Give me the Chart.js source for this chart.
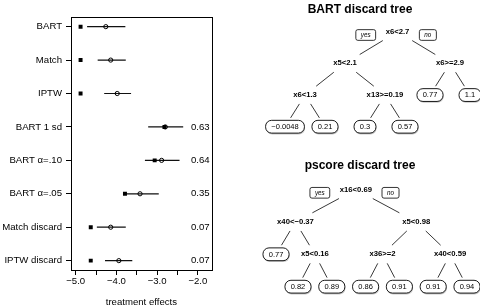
<!DOCTYPE html>
<html><head><meta charset="utf-8">
<script src="https://cdn.jsdelivr.net/npm/chart.js@4.4.1/dist/chart.umd.min.js"></script>
<style>
html,body{margin:0;padding:0;background:#fff;}
#wrap{position:relative;width:480px;height:306px;overflow:hidden;background:#fff;}
canvas{position:absolute;display:block;}
#c1{left:0;top:0;}
#c2{left:240px;top:0;}
#c3{left:240px;top:150px;}
</style></head><body>
<div id="wrap">
<canvas id="c1" width="240" height="306"></canvas>
<canvas id="c2" width="240" height="150"></canvas>
<canvas id="c3" width="240" height="156"></canvas>
</div>
<script>
// ---------------- data: dot plot ----------------
const methods = ["BART","Match","IPTW","BART 1 sd","BART α=.10","BART α=.05","Match discard","IPTW discard"];
const squareEst = [-4.88,-4.88,-4.88,-2.82,-3.06,-3.79,-4.63,-4.63];
const circleEst = [-4.26,-4.14,-3.98,-2.80,-2.89,-3.42,-4.14,-3.94];
const ciLow  = [-4.72,-4.46,-4.30,-3.22,-3.30,-3.83,-4.48,-4.28];
const ciHigh = [-3.78,-3.77,-3.64,-2.36,-2.45,-2.96,-3.77,-3.61];
const discardShare = ["","","","0.63","0.64","0.35","0.07","0.07"];
const xTickValues = [-5,-4.5,-4,-3.5,-3,-2.5,-2];
const xTickLabels = ["−5.0","","−4.0","","−3.0","","−2.0"];
const xAxisTitle = "treatment effects";

// ---------------- data: trees ----------------
const bartTitle = "BART discard tree";
const bartLabels  = ["x6<2.7","x5<2.1","x6>=2.9","x6<1.3","x13>=0.19","0.77","1.1","−0.0048","0.21","0.3","0.57"];
const bartParents = [-1,0,0,1,1,2,2,3,3,4,4];
const bartLeafSlots = [null,null,null,null,null,3.625,4.625,0,1,2,3];

const pscoreTitle = "pscore discard tree";
const pscoreLabels  = ["x16<0.69","x40<−0.37","x5<0.98","0.77","x5<0.16","x36>=2","x40<0.59","0.82","0.89","0.86","0.91","0.91","0.94"];
const pscoreParents = [-1,0,0,1,1,2,2,4,4,5,5,6,6];
const pscoreLeafSlots = [null,null,null,-0.65,null,null,null,0,1,2,3,4,5];

const FAM = '"Liberation Sans", Arial, Helvetica, sans-serif';
Chart.defaults.font.family = FAM;
Chart.defaults.color = '#000';

// ---------------- left chart ----------------
const rowOf = i => i + 1;
const intervalPts = [];
methods.forEach((_, i) => {
  intervalPts.push({x: ciLow[i], y: rowOf(i)}, {x: ciHigh[i], y: rowOf(i)}, {x: ciHigh[i], y: null});
});

const boxPlugin = {
  id: 'plotBox',
  afterDraw(chart) {
    const {ctx, chartArea: a} = chart;
    ctx.save();
    ctx.strokeStyle = '#000';
    ctx.lineWidth = 1;
    ctx.strokeRect(Math.round(a.left) + 0.5, Math.round(a.top) + 0.5,
                   Math.round(a.right) - Math.round(a.left), Math.round(a.bottom) - Math.round(a.top));
    ctx.restore();
  }
};

const axisFont = {family: FAM, size: 9.6};
new Chart(document.getElementById('c1'), {
  type: 'scatter',
  data: {
    datasets: [
      {label: 'estimate', data: circleEst.map((v, i) => ({x: v, y: rowOf(i)})),
       pointStyle: 'circle', pointRadius: 2.1, borderColor: '#000', backgroundColor: 'rgba(0,0,0,0)', borderWidth: 1},
      {label: 'truth', data: squareEst.map((v, i) => ({x: v, y: rowOf(i)})),
       pointStyle: 'rect', pointRadius: 2.8, borderColor: '#000', backgroundColor: '#000', borderWidth: 0},
      {label: 'interval', data: intervalPts, showLine: true, spanGaps: false, pointRadius: 0,
       borderColor: '#111', borderWidth: 1.2}
    ]
  },
  options: {
    responsive: false, animation: false, devicePixelRatio: 1, events: [],
    layout: {padding: {top: 17.3, right: 28.3, left: 0, bottom: 0}},
    plugins: {legend: {display: false}, tooltip: {enabled: false}},
    scales: {
      x: {
        type: 'linear', position: 'bottom', min: -5.115, max: -1.66,
        afterBuildTicks: s => { s.ticks = xTickValues.map(v => ({value: v})); },
        afterFit: s => { s.height = 36; },
        ticks: {autoSkip: false, maxRotation: 0, padding: 1, color: '#000', font: axisFont,
                callback: (v, i) => xTickLabels[i]},
        grid: {display: true, drawOnChartArea: false, drawTicks: true, tickLength: 5, color: '#000', lineWidth: 1},
        border: {display: true, color: '#000', width: 1},
        title: {display: true, text: xAxisTitle, color: '#000', font: axisFont, padding: {top: 0, bottom: -2}}
      },
      y: {
        type: 'linear', position: 'left', min: 0.72, max: 8.28, reverse: true,
        afterBuildTicks: s => { s.ticks = methods.map((_, i) => ({value: rowOf(i)})); },
        afterFit: s => { s.width = 71; },
        ticks: {autoSkip: false, padding: 4, color: '#000', font: axisFont, callback: (v, i) => methods[i]},
        grid: {display: true, drawOnChartArea: false, drawTicks: true, tickLength: 5, color: '#000', lineWidth: 1},
        border: {display: true, color: '#000', width: 1}
      },
      y2: {
        type: 'linear', position: 'right', min: 0.72, max: 8.28, reverse: true,
        afterBuildTicks: s => { s.ticks = methods.map((_, i) => ({value: rowOf(i)})); },
        afterFit: s => { s.width = 0; },
        ticks: {autoSkip: false, mirror: true, padding: -2, color: '#000', font: axisFont,
                callback: (v, i) => discardShare[i]},
        grid: {display: false}, border: {display: false}
      }
    }
  },
  plugins: [boxPlugin]
});

// ---------------- trees ----------------
function layoutTree(parents, slots) {
  const n = parents.length;
  const kids = parents.map(() => []);
  parents.forEach((p, i) => { if (p >= 0) kids[p].push(i); });
  const depth = new Array(n).fill(0);
  for (let i = 0; i < n; i++) { let d = 0, p = parents[i]; while (p >= 0) { d++; p = parents[p]; } depth[i] = d; }
  const xs = new Array(n);
  const pos = i => {
    if (xs[i] !== undefined) return xs[i];
    if (!kids[i].length) return (xs[i] = slots[i]);
    const v = kids[i].map(pos);
    return (xs[i] = (Math.min(...v) + Math.max(...v)) / 2);
  };
  for (let i = 0; i < n; i++) pos(i);
  const nodes = xs.map((x, i) => ({x, y: depth[i]}));
  const edges = [];
  parents.forEach((p, i) => {
    if (p < 0) return;
    const P = nodes[p], C = nodes[i];
    const a = 0.28, b = 0.72;
    edges.push({x: P.x + (C.x - P.x) * a, y: P.y + (C.y - P.y) * a},
               {x: P.x + (C.x - P.x) * b, y: P.y + (C.y - P.y) * b},
               {x: C.x, y: null});
  });
  const leaf = kids.map(k => k.length === 0);
  return {nodes, edges, leaf};
}

function rr(ctx, x, y, w, h, r) {
  ctx.beginPath();
  if (ctx.roundRect) { ctx.roundRect(x, y, w, h, r); }
  else {
    ctx.moveTo(x + r, y); ctx.arcTo(x + w, y, x + w, y + h, r); ctx.arcTo(x + w, y + h, x, y + h, r);
    ctx.arcTo(x, y + h, x, y, r); ctx.arcTo(x, y, x + w, y, r); ctx.closePath();
  }
}

const treePlugin = {
  id: 'treeLabels',
  afterDatasetsDraw(chart, args, opts) {
    const ctx = chart.ctx;
    const meta = chart.getDatasetMeta(1);
    ctx.save();
    ctx.textAlign = 'center';
    ctx.textBaseline = 'middle';
    meta.data.forEach((pt, i) => {
      const label = opts.labels[i];
      const x = pt.x, y = pt.y;
      if (opts.leaf[i]) {
        ctx.font = '7.5px ' + FAM;
        const w = ctx.measureText(label).width + 11.5, h = 12.8;
        ctx.fillStyle = '#c8c8c8';
        rr(ctx, x - w / 2 + 0.6, y - h / 2 + 1.3, w, h, 6); ctx.fill();
        ctx.fillStyle = '#fff';
        rr(ctx, x - w / 2, y - h / 2, w, h, 6); ctx.fill();
        ctx.strokeStyle = '#000'; ctx.lineWidth = 0.9; ctx.stroke();
        ctx.fillStyle = '#000';
        ctx.fillText(label, x, y + 0.3);
      } else {
        ctx.font = 'bold 7.7px ' + FAM;
        ctx.fillStyle = '#000';
        ctx.fillText(label, x, y);
      }
    });
    const root = meta.data[0];
    ctx.font = 'bold 7.7px ' + FAM;
    const rw = ctx.measureText(opts.labels[0]).width;
    ctx.font = 'italic 6.3px ' + FAM;
    [['yes', -1], ['no', 1]].forEach(([t, s]) => {
      const w = ctx.measureText(t).width + 10, h = 10.7;
      const cx = root.x + s * (rw / 2 + 10 + w / 2), cy = root.y + 3.3;
      rr(ctx, cx - w / 2, cy - h / 2, w, h, 2);
      ctx.fillStyle = '#fff'; ctx.fill();
      ctx.strokeStyle = '#000'; ctx.lineWidth = 0.8; ctx.stroke();
      ctx.fillStyle = '#000';
      ctx.fillText(t, cx, cy + 0.2);
    });
    ctx.restore();
  }
};

function treeChart(canvasId, title, labels, parents, slots, xr, yr, titlePad) {
  const t = layoutTree(parents, slots);
  return new Chart(document.getElementById(canvasId), {
    type: 'scatter',
    data: {
      datasets: [
        {label: 'branches', data: t.edges, showLine: true, spanGaps: false, pointRadius: 0,
         borderColor: '#222', borderWidth: 0.9},
        {label: 'nodes', data: t.nodes, pointRadius: 0, showLine: false}
      ]
    },
    options: {
      responsive: false, animation: false, devicePixelRatio: 1, events: [],
      layout: {padding: 0},
      plugins: {
        legend: {display: false}, tooltip: {enabled: false},
        title: {display: true, text: title, color: '#000', font: {family: FAM, size: 12, weight: 'bold'}, padding: titlePad},
        treeLabels: {labels, leaf: t.leaf}
      },
      scales: {
        x: {type: 'linear', display: false, min: xr[0], max: xr[1]},
        y: {type: 'linear', display: false, reverse: true, min: yr[0], max: yr[1]}
      }
    },
    plugins: [treePlugin]
  });
}

treeChart('c2', bartTitle, bartLabels, bartParents, bartLeafSlots, [-1.125, 4.875], [-0.42, 3.735], {top: 2.5, bottom: 1.5});
treeChart('c3', pscoreTitle, pscoreLabels, pscoreParents, pscoreLeafSlots, [-1.716, 5.385], [-0.404, 3.596], {top: 8, bottom: 4});
</script>
</body></html>
